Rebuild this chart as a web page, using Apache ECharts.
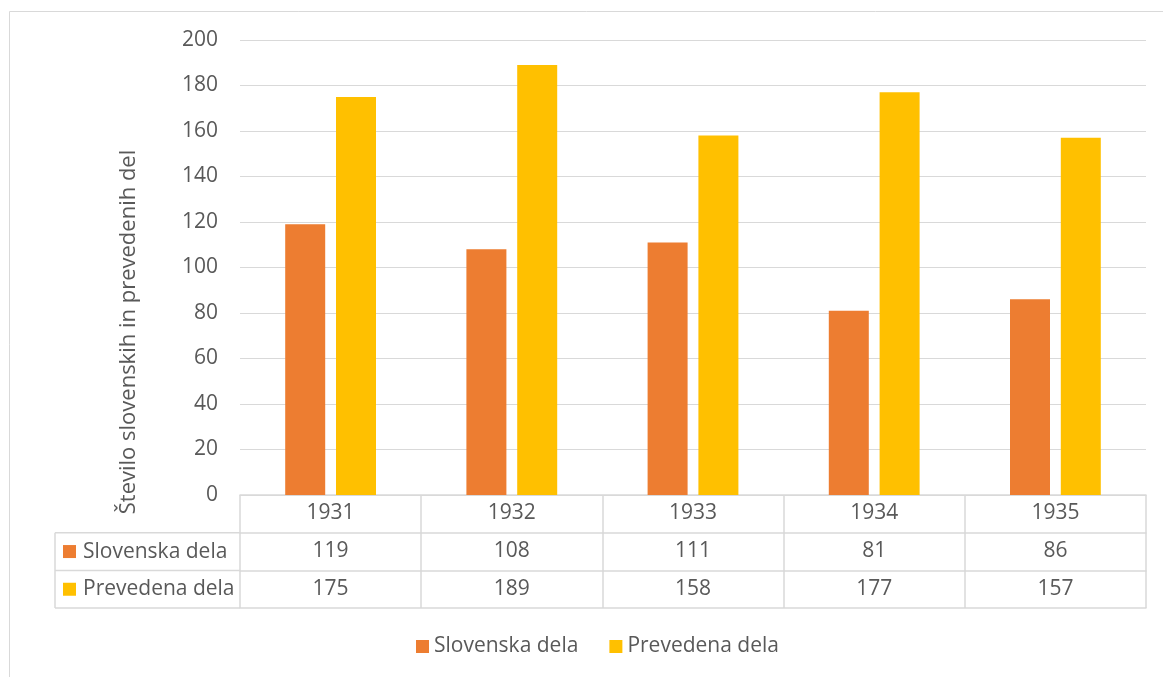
<!DOCTYPE html>
<html>
<head>
<meta charset="utf-8">
<script src="https://cdn.jsdelivr.net/npm/echarts@6/dist/echarts.min.js"></script>
<style>
html, body { margin: 0; padding: 0; background: #fff; }
#main { width: 1163px; height: 677px; }
</style>
</head>
<body>
<div id="main"></div>
<script>
var years = ['1931', '1932', '1933', '1934', '1935'];
var slovenska = [119, 108, 111, 81, 86];
var prevedena = [175, 189, 158, 177, 157];
var seriesNames = ['Slovenska dela', 'Prevedena dela'];
var colors = ['#ED7D31', '#FFC000'];

var font = 'Open Sans';
var txt = '#595959';
var line = '#d9d9d9';
var fs = 21;

// grid edges, table rows hang below the plot
var gLeft = 240, gRight = 17, gTop = 40, gBottom = 182;
var rowH = 37.7;
var tabLeft = 55;
var axisY = 677 - gBottom;
var tw = 1.5; // table line width

var myChart = echarts.init(document.getElementById('main'));

function rowAxis(labels, off, showLabel) {
    return {
        type: 'category',
        gridIndex: 0,
        position: 'bottom',
        offset: off,
        data: labels,
        axisLine: { show: true, lineStyle: { color: line, width: tw } },
        axisTick: { show: false },
        axisLabel: {
            show: showLabel, interval: 0, margin: 7,
            color: txt, fontFamily: font, fontSize: fs, lineHeight: 23
        },
        splitLine: { show: false }
    };
}

var graphics = [
    { type: 'rect', shape: { x: 9.5, y: 11.5, width: 1170, height: 700 },
      style: { fill: null, stroke: line, lineWidth: 1 }, silent: true },
    { type: 'text', x: 129, y: 332, rotation: Math.PI / 2,
      style: { text: 'Število slovenskih in prevedenih del', fill: txt,
               font: '22px "' + font + '"', align: 'center', verticalAlign: 'middle' } },
    { type: 'line', shape: { x1: tabLeft, y1: axisY + rowH * 3, x2: tabLeft, y2: axisY + rowH },
      style: { stroke: line, lineWidth: tw } }
];
for (var r = 1; r <= 3; r++) {
    graphics.push({ type: 'line',
        shape: { x1: tabLeft, y1: axisY + rowH * r, x2: gLeft, y2: axisY + rowH * r },
        style: { stroke: line, lineWidth: tw } });
}
for (var s = 0; s < 2; s++) {
    var cy = axisY + rowH * (s + 1.5);
    graphics.push({ type: 'rect', shape: { x: 63, y: cy - 6.5, width: 13, height: 13 },
        style: { fill: colors[s] } });
    graphics.push({ type: 'text', x: 83, y: cy,
        style: { text: seriesNames[s], fill: txt, font: fs + 'px "' + font + '"',
                 verticalAlign: 'middle' } });
}

option = {
    animation: false,
    color: colors,
    textStyle: { fontFamily: font },
    grid: { left: gLeft, right: gRight, top: gTop, bottom: gBottom, containLabel: false },
    legend: {
        data: seriesNames,
        top: 631,
        left: 411,
        icon: 'rect',
        itemWidth: 13,
        itemHeight: 13,
        itemGap: 31,
        textStyle: { color: txt, fontFamily: font, fontSize: fs }
    },
    xAxis: [
        {
            type: 'category',
            data: years,
            axisLine: { show: true, lineStyle: { color: line, width: tw } },
            axisTick: { show: true, interval: 0, length: rowH * 3, lineStyle: { color: line, width: tw } },
            axisLabel: { interval: 0, margin: 7, color: txt, fontFamily: font, fontSize: fs, lineHeight: 23 }
        },
        rowAxis(slovenska.map(String), rowH, true),
        rowAxis(prevedena.map(String), rowH * 2, true),
        rowAxis(years, rowH * 3, false)
    ],
    yAxis: {
        type: 'value',
        min: 0,
        max: 200,
        interval: 20,
        axisLine: { show: false },
        axisTick: { show: false },
        axisLabel: { margin: 22, color: txt, fontFamily: font, fontSize: fs },
        splitLine: { lineStyle: { color: line, width: 1 } }
    },
    series: [
        { name: seriesNames[0], type: 'bar', data: slovenska, barWidth: 40, barGap: '27%' },
        { name: seriesNames[1], type: 'bar', data: prevedena, barWidth: 40, barGap: '27%' }
    ],
    graphic: graphics
};

myChart.setOption(option);
</script>
</body>
</html>
